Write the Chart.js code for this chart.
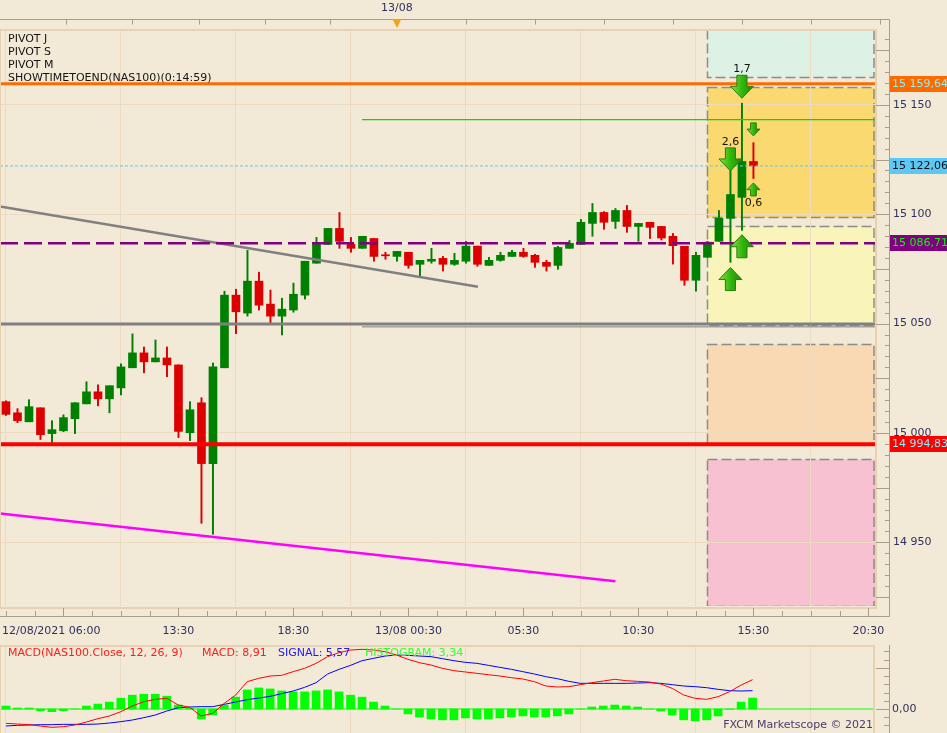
<!DOCTYPE html>
<html>
<head>
<meta charset="utf-8">
<script src="https://cdn.jsdelivr.net/npm/chart.js@4.4.1/dist/chart.umd.min.js"></script>
<style>
  html, body { margin: 0; padding: 0; background: #f2e9d6; overflow: hidden; }
  #wrap { position: relative; width: 947px; height: 733px; }
  canvas { position: absolute; left: 0; display: block; }
  #main { top: 0; }
  #macd { top: 645px; }
</style>
</head>
<body>
<div id="wrap">
  <canvas id="main" width="947" height="645"></canvas>
  <canvas id="macd" width="947" height="88"></canvas>
</div>
<script>
// ---- data (30 min candles, NAS100, 12/08 06:00 -> 13/08 15:30) ----
var open = [15014.3,15009.2,15005.1,15011.5,14999.7,15001.0,15006.5,15013.3,15018.8,15015.6,
  15020.6,15029.8,15036.6,15032.5,15034.3,15031.1,15000.1,15013.8,14986.0,15029.8,
  15063.0,15054.8,15069.4,15058.9,15053.4,15056.2,15063.0,15077.6,15086.2,15093.5,
  15086.2,15084.4,15088.9,15081.2,15080.7,15082.6,15077.1,15078.5,15079.8,15077.1,
  15078.5,15085.4,15076.6,15078.9,15080.7,15082.6,15081.2,15078.0,15076.6,15084.4,
  15086.2,15095.8,15100.8,15096.7,15101.7,15094.4,15096.3,15094.4,15089.9,15085.3,
  15069.8,15080.3,15087.6,15098.1,15107.7,15124.1];
var high = [15014.7,15011.1,15015.2,15011.5,15005.6,15008.3,15013.8,15023.4,15022.0,15021.6,
  15031.6,15045.3,15039.3,15042.5,15039.3,15031.1,15014.3,15016.1,15032.0,15064.8,
  15065.7,15083.5,15073.5,15065.3,15061.6,15068.5,15078.5,15089.4,15093.5,15100.8,
  15089.4,15089.9,15088.9,15082.6,15083.0,15082.6,15078.9,15084.4,15080.7,15082.1,
  15087.6,15085.4,15080.3,15082.6,15083.5,15084.4,15081.7,15078.9,15085.3,15088.0,
  15097.6,15104.9,15101.2,15102.6,15104.0,15095.8,15096.3,15094.4,15091.2,15085.3,
  15082.6,15087.6,15101.7,15121.0,15150.7,15132.7];
var low = [15008.0,15004.7,15005.1,14997.0,14995.6,15000.6,14999.7,15013.3,15012.4,15009.2,
  15017.4,15029.8,15027.5,15032.5,15025.7,14997.9,14996.5,14958.7,14953.7,15029.8,
  15045.4,15053.4,15056.2,15050.3,15044.8,15055.2,15061.2,15077.6,15086.2,15084.4,
  15082.6,15084.4,15078.5,15079.4,15078.5,15075.3,15071.2,15077.6,15074.0,15076.6,
  15077.6,15076.2,15076.6,15078.5,15080.7,15080.3,15075.7,15074.0,15074.8,15084.4,
  15086.2,15089.9,15093.1,15093.5,15091.7,15087.6,15088.9,15088.2,15077.2,15067.5,
  15064.8,15080.3,15087.6,15078.0,15092.6,15116.3];
var close = [15008.5,15005.6,15012.0,14999.2,15001.5,15007.0,15013.8,15018.8,15015.6,15021.6,
  15030.2,15036.6,15032.5,15034.3,15031.1,15000.7,15010.6,14986.0,15030.2,15063.0,
  15055.4,15069.4,15058.4,15053.4,15056.6,15063.4,15078.5,15086.7,15093.5,15087.6,
  15084.4,15089.9,15080.7,15081.0,15083.0,15076.6,15078.9,15079.4,15077.1,15078.9,
  15085.4,15077.1,15078.9,15081.2,15082.6,15080.7,15078.0,15076.2,15084.8,15086.7,
  15096.3,15100.8,15096.3,15101.7,15094.4,15095.8,15094.0,15089.1,15085.6,15069.8,
  15081.2,15087.2,15098.1,15109.0,15124.1,15122.06];

var macdLine = [-4.36,-4.56,-4.76,-5.17,-5.57,-5.37,-4.86,-3.95,-2.94,-2.13,
  -0.81,0.91,2.23,2.94,3.24,1.22,0.51,-2.13,-1.32,1.72,
  4.26,8.31,9.32,10.03,10.23,11.35,12.36,13.88,15.91,17.12,
  17.93,18.14,17.93,17.43,16.41,15.10,14.08,13.37,12.36,11.65,
  11.25,10.84,10.43,10.03,9.52,9.12,8.31,6.99,6.69,6.79,
  7.40,8.00,8.51,9.02,8.61,8.41,8.21,7.60,6.28,4.26,
  3.24,2.94,3.75,5.27,7.29,8.91];
var signalLine = [-5.17,-4.96,-4.86,-4.76,-4.76,-4.66,-4.66,-4.66,-4.56,-4.26,
  -3.85,-3.34,-2.63,-1.82,-0.61,0.41,0.61,0.71,0.71,1.42,
  2.13,2.84,3.34,3.85,4.66,5.47,6.59,8.00,10.64,12.06,
  13.27,14.69,15.40,16.11,16.41,16.31,16.11,15.91,15.30,14.69,
  14.18,13.88,13.27,12.66,12.06,11.35,10.64,9.83,9.22,8.41,
  7.80,7.80,7.80,7.80,7.80,7.90,8.00,7.80,7.40,6.99,
  6.79,6.48,5.98,5.57,5.47,5.57];
var histogram = [0.9,0.3,0.3,-0.5,-0.8,-0.5,0.0,0.9,1.5,2.1,
  3.3,4.2,4.5,4.5,3.9,1.2,0.2,-3.0,-1.8,1.2,
  3.6,5.8,6.4,6.1,5.5,5.2,5.2,5.5,5.8,5.2,
  4.2,3.6,2.1,0.9,0.0,-1.5,-2.4,-3.0,-3.3,-3.3,
  -2.7,-3.0,-3.0,-2.7,-2.4,-2.1,-2.4,-2.4,-2.1,-1.5,
  0.0,0.6,0.9,1.2,0.9,0.6,0.0,-0.6,-1.8,-3.3,
  -3.6,-3.3,-2.1,-0.1,2.1,3.34];

var xTickIdx = [5, 15, 25, 35, 45, 55, 65, 75];
var xTickLabels = ['12/08/2021 06:00', '13:30', '18:30', '13/08 00:30', '05:30', '10:30', '15:30', '20:30'];
var topTickIdx = [5.25, 11, 16.75, 22.5, 28.2, 34, 40, 46, 52, 58, 64, 70, 76];
var dayMarkIdx = 34, dayMarkLabel = '13/08';
var priceTicks = [14950, 15000, 15050, 15100, 15150];
var pivotTexts = ['PIVOT J', 'PIVOT S', 'PIVOT M', 'SHOWTIMETOEND(NAS100)(0:14:59)'];

// price levels shown with a box on the price axis
var levelValues = [15159.64, 15122.06, 15086.71, 14994.83];
var levelColors = ['#ff6a00', '#5ec8f4', '#800080', '#ff0000'];
var levelTextColors = ['#7ff6ff', '#101010', '#00ff00', '#7ff6ff'];

// other lines
var pivotLevel = 15049.8;
var pivotLevel2 = 15048.5;
var greenLevel = 15143.2;
var lineStartIdx = 30.96;
var grayTrend = [[-0.52, 15103.5], [41.04, 15066.8]];
var magentaTrend = [[-0.52, 14963.2], [53.0, 14932.2]];

// zones at the right side
var zoneStartIdx = 60.96;
var zoneLow = [15162.6, 15098.8, 15049.5, 14994.8, 14921.0];
var zoneHigh = [15185.0, 15158.1, 15094.7, 15040.8, 14988.3];
var zoneColors = ['#ddf2e4', '#f9d970', '#f9f4b9', '#f8d9b3', '#f7c1d1'];

// signal arrows
var arrowIdx = [64, 63, 65, 65, 64, 63];
var arrowTip = [15153.0, 15119.8, 15135.8, 15114.3, 15090.6, 15075.6];
var arrowDir = ['down', 'down', 'down', 'up', 'up', 'up'];
var arrowSize = [23, 23, 13, 13, 23, 23];
var arrowText = ['1,7', '2,6', '', '0,6', '', ''];

var X_MIN = -0.52, X_MAX = 75.57;
var Y_MIN = 14920.9, Y_MAX = 15184.2;
var M_MIN = -7.29, M_MAX = 19.15;

var FONT = "11px 'DejaVu Sans', sans-serif";
var TXT = '#30305e';
var GRID = '#ecdbc1';
var AXIS = '#aa9d8c';
var FRAME = '#e6d2b0';

function fmt(v, dec) {
  var s = v.toFixed(dec).split('.');
  var i = s[0].replace(/\B(?=(\d{3})+(?!\d))/g, ' ');
  return s.length > 1 ? i + ',' + s[1] : i;
}

var idx = open.map(function (_, i) { return i; });
var candleColors = idx.map(function (i) { return close[i] >= open[i] ? '#008000' : '#dc0000'; });

function hLine(v, from) {
  return [{ x: from === undefined ? X_MIN : from, y: v }, { x: X_MAX, y: v }];
}
function seg(p) { return p.map(function (q) { return { x: q[0], y: q[1] }; }); }
function noPad(s) { s.paddingTop = 0; s.paddingBottom = 0; s.paddingLeft = 0; s.paddingRight = 0; }

function drawArrow(ctx, x, tipY, dir, size) {
  var s = dir === 'down' ? 1 : -1;
  var hw = size / 2, sw = size * 0.22;
  var baseY = tipY - s * size, neckY = tipY - s * size * 0.52;
  ctx.beginPath();
  ctx.moveTo(x - sw, baseY);
  ctx.lineTo(x + sw, baseY);
  ctx.lineTo(x + sw, neckY);
  ctx.lineTo(x + hw, neckY);
  ctx.lineTo(x, tipY);
  ctx.lineTo(x - hw, neckY);
  ctx.lineTo(x - sw, neckY);
  ctx.closePath();
  var g = ctx.createLinearGradient(x - hw, 0, x + hw, 0);
  g.addColorStop(0, '#86e23c');
  g.addColorStop(0.5, '#33b80f');
  g.addColorStop(1, '#1c8705');
  ctx.fillStyle = g;
  ctx.fill();
  ctx.strokeStyle = '#2b7d0c';
  ctx.lineWidth = 1;
  ctx.stroke();
}

var zonesPlugin = {
  id: 'zones',
  beforeDraw: function (chart) {
    var ctx = chart.ctx, ca = chart.chartArea, xs = chart.scales.x, ys = chart.scales.y;
    ctx.save();
    ctx.beginPath();
    ctx.rect(ca.left, ca.top, ca.right - ca.left, ca.bottom - ca.top);
    ctx.clip();
    var x0 = Math.round(xs.getPixelForValue(zoneStartIdx)) + 0.5;
    for (var k = 0; k < zoneLow.length; k++) {
      var yt = Math.round(ys.getPixelForValue(zoneHigh[k])) + 0.5;
      var yb = Math.round(ys.getPixelForValue(zoneLow[k])) + 0.5;
      ctx.fillStyle = zoneColors[k];
      ctx.fillRect(x0, yt, ca.right - x0, yb - yt);
      ctx.setLineDash([10, 4]);
      ctx.strokeStyle = '#8c8c8c';
      ctx.lineWidth = 1.5;
      ctx.strokeRect(x0, yt, ca.right - x0 - 1, yb - yt);
    }
    ctx.restore();
  }
};

var decorPlugin = {
  id: 'decor',
  afterDraw: function (chart) {
    var ctx = chart.ctx, ca = chart.chartArea, xs = chart.scales.x, ys = chart.scales.y;
    ctx.save();
    // frame of the plot
    ctx.strokeStyle = FRAME;
    ctx.lineWidth = 2;
    ctx.strokeRect(ca.left, ca.top, ca.right - ca.left + 1, ca.bottom - ca.top + 2);

    // arrows + their numbers
    ctx.font = FONT;
    ctx.textAlign = 'center';
    ctx.textBaseline = 'middle';
    for (var a = 0; a < arrowIdx.length; a++) {
      var ax = xs.getPixelForValue(arrowIdx[a]);
      var ay = ys.getPixelForValue(arrowTip[a]);
      drawArrow(ctx, ax, ay, arrowDir[a], arrowSize[a]);
      if (arrowText[a]) {
        ctx.fillStyle = '#111';
        var ty = arrowDir[a] === 'down' ? ay - arrowSize[a] - 6 : ay + arrowSize[a] + 7;
        ctx.fillText(arrowText[a], ax, ty);
      }
    }

    // indicator names, top left
    ctx.textAlign = 'left';
    ctx.fillStyle = '#141414';
    pivotTexts.forEach(function (t, i) { ctx.fillText(t, 8, 39 + i * 13); });

    // top time axis
    ctx.strokeStyle = AXIS;
    ctx.lineWidth = 1;
    ctx.beginPath();
    ctx.moveTo(0, 19.5); ctx.lineTo(889.5, 19.5);
    topTickIdx.forEach(function (v) {
      var x = Math.round(xs.getPixelForValue(v)) + 0.5;
      ctx.moveTo(x, 19.5); ctx.lineTo(x, 24.5);
    });
    // bottom time axis
    ctx.moveTo(0, 616.5); ctx.lineTo(889.5, 616.5);
    for (var v = xTickIdx[0] - 5; v <= X_MAX; v += 2.5) {
      var bx = Math.round(xs.getPixelForValue(v)) + 0.5;
      var major = xTickIdx.indexOf(v) >= 0;
      ctx.moveTo(bx, major ? 608 : 611); ctx.lineTo(bx, 616.5);
    }
    // right price axis
    ctx.moveTo(889.5, 19.5); ctx.lineTo(889.5, 616.5);
    for (var p = 14925; p < Y_MAX; p += 5) {
      var py = Math.round(ys.getPixelForValue(p)) + 0.5;
      ctx.moveTo(p % 25 === 0 ? 876 : 885, py); ctx.lineTo(889.5, py);
    }
    ctx.stroke();

    // day marker
    var mx = xs.getPixelForValue(dayMarkIdx);
    ctx.fillStyle = TXT;
    ctx.textAlign = 'center';
    ctx.fillText(dayMarkLabel, mx, 8);
    ctx.fillStyle = '#f7a11a';
    ctx.beginPath();
    ctx.moveTo(mx - 4.5, 19); ctx.lineTo(mx + 4.5, 19); ctx.lineTo(mx, 28); ctx.closePath();
    ctx.fill();

    // level boxes on the price axis
    ctx.textAlign = 'left';
    for (var l = 0; l < levelValues.length; l++) {
      var ly = Math.round(ys.getPixelForValue(levelValues[l]));
      ctx.fillStyle = levelColors[l];
      ctx.fillRect(890, ly - 8, 57, 16);
      ctx.fillStyle = levelTextColors[l];
      ctx.fillText(fmt(levelValues[l], 2), 892, ly + 0.5);
    }
    ctx.restore();
  }
};

var candleData = idx.map(function (i) { return { x: i, y: [low[i], high[i]] }; });
var bodyData = idx.map(function (i) { return { x: i, y: [open[i], close[i]] }; });

new Chart(document.getElementById('main').getContext('2d'), {
  type: 'bar',
  data: {
    datasets: [
      { type: 'line', data: hLine(levelValues[0]), borderColor: levelColors[0], borderWidth: 3, pointRadius: 0, order: 1 },
      { type: 'line', data: hLine(levelValues[1]), borderColor: levelColors[1], borderWidth: 1, borderDash: [3, 2], pointRadius: 0, order: 1 },
      { type: 'line', data: hLine(levelValues[2]), borderColor: levelColors[2], borderWidth: 2.5, borderDash: [18, 6], pointRadius: 0, order: 1 },
      { type: 'line', data: hLine(levelValues[3]), borderColor: levelColors[3], borderWidth: 4, pointRadius: 0, order: 1 },
      { type: 'line', data: hLine(pivotLevel), borderColor: '#808080', borderWidth: 3, pointRadius: 0, order: 1 },
      { type: 'line', data: hLine(pivotLevel2, lineStartIdx), borderColor: '#808080', borderWidth: 1, pointRadius: 0, order: 1 },
      { type: 'line', data: hLine(greenLevel, lineStartIdx), borderColor: '#00e000', borderWidth: 1.3, pointRadius: 0, order: 1 },
      { type: 'line', data: seg(grayTrend), borderColor: '#808080', borderWidth: 2.5, pointRadius: 0, order: 1 },
      { type: 'line', data: seg(magentaTrend), borderColor: '#ff00ff', borderWidth: 2.5, pointRadius: 0, order: 1 },
      { type: 'bar', data: candleData, backgroundColor: candleColors, barThickness: 1.3, grouped: false, order: 10 },
      { type: 'bar', data: bodyData, backgroundColor: candleColors, barThickness: 8, minBarLength: 1, grouped: false, order: 9 }
    ]
  },
  options: {
    responsive: false,
    animation: false,
    events: [],
    layout: { autoPadding: false, padding: { top: 30, left: 0, right: 0, bottom: 0 } },
    plugins: { legend: { display: false }, tooltip: { enabled: false } },
    scales: {
      x: {
        type: 'linear', min: X_MIN, max: X_MAX, offset: false,
        afterBuildTicks: function (s) { s.ticks = xTickIdx.map(function (v) { return { value: v }; }); },
        afterFit: function (s) { s.height = 39; noPad(s); },
        grid: { color: GRID, drawTicks: false },
        border: { display: false },
        ticks: {
          autoSkip: false, maxRotation: 0, padding: 19, color: TXT,
          font: { family: "'DejaVu Sans'", size: 11 },
          callback: function (v) {
            var k = xTickIdx.indexOf(v);
            // first label is wider: pad it so it starts at the left edge
            return k === 0 ? xTickLabels[k] + '       ' : xTickLabels[k];
          }
        }
      },
      y: {
        type: 'linear', position: 'right', min: Y_MIN, max: Y_MAX,
        afterBuildTicks: function (s) { s.ticks = priceTicks.map(function (v) { return { value: v }; }); },
        afterFit: function (s) { s.width = 72; noPad(s); },
        grid: { color: GRID, drawTicks: false },
        border: { display: false },
        ticks: {
          padding: 18, color: TXT,
          font: { family: "'DejaVu Sans'", size: 11 },
          callback: function (v) { return fmt(v, 0); }
        }
      }
    }
  },
  plugins: [zonesPlugin, decorPlugin]
});

// ---- MACD panel ----
var macdDecor = {
  id: 'macdDecor',
  afterDraw: function (chart) {
    var ctx = chart.ctx, ca = chart.chartArea, ys = chart.scales.y;
    ctx.save();
    ctx.strokeStyle = FRAME;
    ctx.lineWidth = 2;
    ctx.strokeRect(ca.left, ca.top, ca.right - ca.left, ca.bottom - ca.top + 2);
    ctx.strokeStyle = AXIS;
    ctx.lineWidth = 1;
    ctx.beginPath();
    ctx.moveTo(889.5, 0); ctx.lineTo(889.5, 88);
    for (var m = -5; m < M_MAX; m += 2.5) {
      var my = Math.round(ys.getPixelForValue(m)) + 0.5;
      var long = Math.abs(m % 12.5) < 0.01;
      ctx.moveTo(long ? 876 : 884, my); ctx.lineTo(889.5, my);
    }
    ctx.stroke();

    ctx.font = FONT;
    ctx.textBaseline = 'middle';
    ctx.textAlign = 'left';
    var n = macdLine.length - 1;
    var parts = [
      ['MACD(NAS100.Close, 12, 26, 9)', '#ff1a1a', 8],
      ['MACD: ' + fmt(macdLine[n], 2), '#ff1a1a', 202],
      ['SIGNAL: ' + fmt(signalLine[n], 2), '#1a1aff', 278],
      ['HISTOGRAM: ' + fmt(histogram[n], 2), '#33ff33', 365]
    ];
    parts.forEach(function (p) { ctx.fillStyle = p[1]; ctx.fillText(p[0], p[2], 8); });

    ctx.textAlign = 'right';
    ctx.fillStyle = '#4a3c6c';
    ctx.fillText('FXCM Marketscope \u00a9 2021', 873, 80);
    ctx.restore();
  }
};

new Chart(document.getElementById('macd').getContext('2d'), {
  type: 'bar',
  data: {
    datasets: [
      { type: 'line', data: hLine(0), borderColor: '#00ff00', borderWidth: 1, pointRadius: 0, order: 3 },
      { type: 'line', data: idx.map(function (i) { return { x: i, y: macdLine[i] }; }), borderColor: '#ff0000', borderWidth: 1, pointRadius: 0, order: 1 },
      { type: 'line', data: idx.map(function (i) { return { x: i, y: signalLine[i] }; }), borderColor: '#0000ff', borderWidth: 1, pointRadius: 0, order: 2 },
      { type: 'bar', data: idx.map(function (i) { return { x: i, y: histogram[i] }; }), backgroundColor: '#00ff00', barThickness: 8, grouped: false, order: 4 }
    ]
  },
  options: {
    responsive: false,
    animation: false,
    events: [],
    layout: { autoPadding: false, padding: { top: 1, left: 0, right: 0, bottom: 0 } },
    plugins: { legend: { display: false }, tooltip: { enabled: false } },
    scales: {
      x: {
        type: 'linear', min: X_MIN, max: X_MAX, offset: false,
        afterBuildTicks: function (s) { s.ticks = xTickIdx.map(function (v) { return { value: v }; }); },
        afterFit: function (s) { s.height = 0; noPad(s); },
        grid: { color: GRID, drawTicks: false },
        border: { display: false },
        ticks: { display: false }
      },
      y: {
        type: 'linear', position: 'right', min: M_MIN, max: M_MAX,
        afterBuildTicks: function (s) { s.ticks = [{ value: 0 }]; },
        afterFit: function (s) { s.width = 73; noPad(s); },
        grid: { display: false, drawTicks: false },
        border: { display: false },
        ticks: {
          padding: 18, color: TXT,
          font: { family: "'DejaVu Sans'", size: 11 },
          callback: function (v) { return fmt(v, 2); }
        }
      }
    }
  },
  plugins: [macdDecor]
});
</script>
</body>
</html>
